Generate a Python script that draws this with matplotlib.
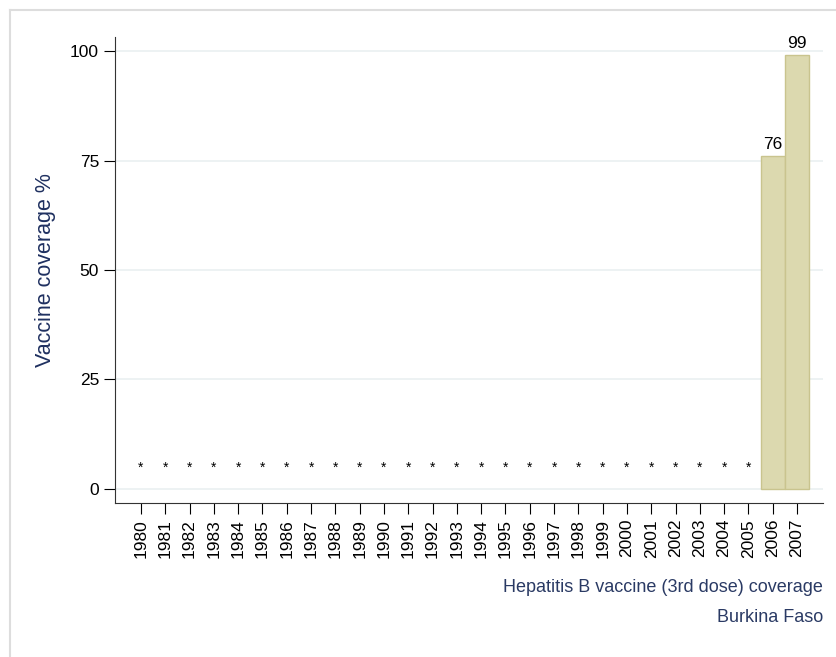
import matplotlib.pyplot as plt
import numpy as np

# data
years = list(range(1980, 2008))
coverage = [None] * 26 + [76, 99]   # only 2006 and 2007 reported
missing_mark = 4.8                   # height of the '*' for no data

plt.rcParams['font.family'] = ['Liberation Sans', 'DejaVu Sans']

fig = plt.figure(figsize=(8.37, 6.57), dpi=100)
# light grey frame on top and left
fig.add_artist(plt.Line2D([10/837, 10/837], [0, 1-10/657], color='#dddddd', lw=1.5))
fig.add_artist(plt.Line2D([10/837, 1], [1-10/657, 1-10/657], color='#dddddd', lw=1.5))

ax = fig.add_axes([115/837, 1-503/657, (823-115)/837, (503-37)/657])
x = np.arange(len(years))

for i, v in enumerate(coverage):
    if v is None:
        ax.text(i, missing_mark, '*', ha='center', va='center', fontsize=10)
    else:
        ax.bar(i, v, width=1.0, color='#dcd9af', edgecolor='#c9c48e', linewidth=1, zorder=2)
        ax.text(i, v + 1.0, str(v), ha='center', va='bottom', fontsize=12.5)

ax.set_xlim(-1.07, len(years) - 1 + 1.07)
ax.set_ylim(-3.2, 103.2)
ax.set_yticks([0, 25, 50, 75, 100])
ax.set_xticks(x)
ax.set_xticklabels([str(y) for y in years], rotation=90, fontsize=12.5)
ax.tick_params(axis='y', labelsize=12.5, length=8)
ax.tick_params(axis='x', length=8)
ax.yaxis.grid(True, color='#eaf0f1', lw=1.2)
ax.set_axisbelow(True)
for s in ['top', 'right']:
    ax.spines[s].set_visible(False)
ax.spines['left'].set_color('#333333')
ax.spines['bottom'].set_color('#333333')

ax.set_ylabel('Vaccine coverage %', fontsize=15.5, color='#1f3060', labelpad=10)

fig.text(823/837, 1-588/657, 'Hepatitis B vaccine (3rd dose) coverage', ha='right', va='center',
         fontsize=13, color='#2a3a64')
fig.text(823/837, 1-618/657, 'Burkina Faso', ha='right', va='center', fontsize=13, color='#2a3a64')

fig.savefig('out.png', dpi=100)
